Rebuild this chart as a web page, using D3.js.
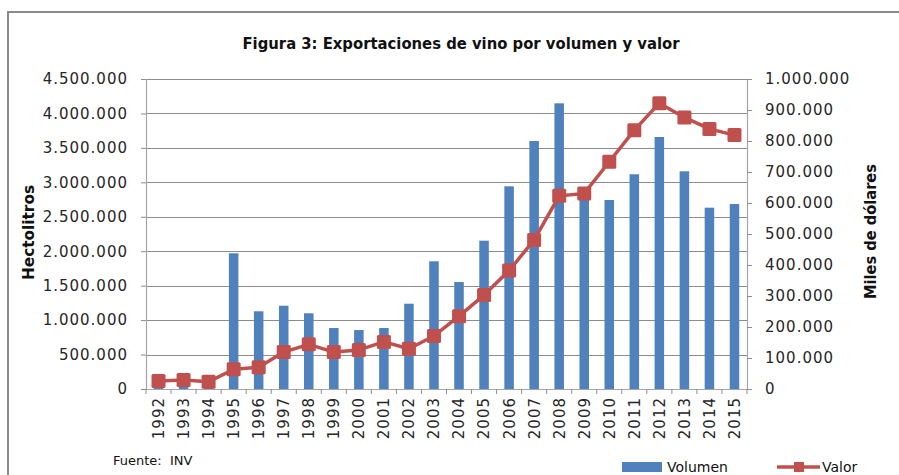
<!DOCTYPE html>
<html>
<head>
<meta charset="utf-8">
<script src="https://cdn.jsdelivr.net/npm/d3@7"></script>
<style>
  html, body { margin: 0; padding: 0; background: #fff; }
  svg { display: block; }
</style>
</head>
<body>
<svg id="chart" width="899" height="475"></svg>
<script>
const years = ["1992","1993","1994","1995","1996","1997","1998","1999","2000","2001","2002","2003","2004","2005","2006","2007","2008","2009","2010","2011","2012","2013","2014","2015"];
const volumen = [120000,130000,110000,1970000,1128000,1209000,1099000,885000,856000,885000,1238000,1854000,1553000,2153000,2942000,3600000,4147000,2790000,2744000,3117000,3658000,3160000,2632000,2685000];
const valor = [25800,29000,23500,63500,70000,119000,144000,119000,126000,152000,130000,171000,235000,303000,382000,481000,623000,631000,733000,835000,922000,876000,839000,819000];
const leftTicks = [0,500000,1000000,1500000,2000000,2500000,3000000,3500000,4000000,4500000];
const rightTicks = [0,100000,200000,300000,400000,500000,600000,700000,800000,900000,1000000];
const seriesNames = ["Volumen","Valor"];
const titleText = "Figura 3: Exportaciones de vino por volumen y valor";
const leftTitle = "Hectolitros";
const rightTitle = "Miles de dólares";
const sourceText = "Fuente:\u00a0\u00a0INV";

(function () {
const BLUE = "#4f81bd", RED = "#c0504d";
const svg = d3.select("#chart");
const pL = 146, pR = 747, pT = 79, pB = 389;

const fmt = v => v === 0 ? "0" : d3.format(",")(v).replace(/,/g, ".");

svg.append("rect").attr("x", 8).attr("y", 12).attr("width", 920).attr("height", 500)
  .attr("fill", "none").attr("stroke", "#8a8a8a").attr("stroke-width", 2);

const x = d3.scaleBand().domain(years).range([pL, pR]).padding(0);
const yL = d3.scaleLinear().domain([0, 4500000]).range([pB, pT]);
const yR = d3.scaleLinear().domain([0, 1000000]).range([pB, pT]);

svg.append("g").selectAll("line").data(leftTicks.filter(d => d > 0)).join("line")
  .attr("x1", pL).attr("x2", pR)
  .attr("y1", d => Math.round(yL(d)) + 0.5).attr("y2", d => Math.round(yL(d)) + 0.5)
  .attr("stroke", "#8c8c8c").attr("stroke-width", 1);

const textFont = "'DejaVu Sans', sans-serif";

const gL = svg.append("g").attr("transform", `translate(${pL},0)`)
  .call(d3.axisLeft(yL).tickValues(leftTicks).tickFormat(fmt).tickSize(5).tickPadding(13));
const gR = svg.append("g").attr("transform", `translate(${pR},0)`)
  .call(d3.axisRight(yR).tickValues(rightTicks).tickFormat(fmt).tickSize(5).tickPadding(13));
const gB = svg.append("g").attr("transform", `translate(0,${pB})`)
  .call(d3.axisBottom(x).tickSize(0).tickFormat(d => d));

[gL, gR, gB].forEach(g => {
  g.select(".domain").attr("stroke", "#a6a6a6").attr("stroke-width", 1.2);
  g.selectAll(".tick line").attr("stroke", "#8c8c8c");
  g.selectAll("text").attr("font-family", textFont).attr("font-size", 15)
    .attr("letter-spacing", "1px").attr("fill", "#262626");
});

gB.selectAll(".tick text")
  .attr("text-anchor", "end")
  .attr("transform", "translate(0,8) rotate(-90)")
  .attr("x", 0).attr("y", 0).attr("dy", "0.36em");

svg.append("g").selectAll("line").data(d3.range(years.length + 1)).join("line")
  .attr("x1", i => pL + i * x.step()).attr("x2", i => pL + i * x.step())
  .attr("y1", pB).attr("y2", pB + 5)
  .attr("stroke", "#8c8c8c");

const bw = x.bandwidth() * 0.38;
svg.append("g").selectAll("rect").data(years).join("rect")
  .attr("x", (d) => x(d) + (x.bandwidth() - bw) / 2)
  .attr("width", bw)
  .attr("y", (d, i) => yL(volumen[i]))
  .attr("height", (d, i) => pB - yL(volumen[i]))
  .attr("fill", BLUE);

const cx = d => x(d) + x.bandwidth() / 2;
const line = d3.line().x((d, i) => cx(years[i])).y(d => yR(d));
svg.append("path").datum(valor).attr("d", line)
  .attr("fill", "none").attr("stroke", RED).attr("stroke-width", 3.5).attr("stroke-linejoin", "round");
const ms = 14;
svg.append("g").selectAll("rect").data(valor).join("rect")
  .attr("x", (d, i) => cx(years[i]) - ms / 2).attr("y", d => yR(d) - ms / 2)
  .attr("width", ms).attr("height", ms).attr("rx", 1.5)
  .attr("fill", RED);

svg.append("text").attr("x", 461).attr("y", 49).attr("text-anchor", "middle")
  .attr("font-family", textFont).attr("font-weight", "bold").attr("font-size", 15.5)
  .attr("fill", "#111")
  .attr("textLength", 437).attr("lengthAdjust", "spacingAndGlyphs")
  .text(titleText);

svg.append("text").attr("transform", "translate(34,232.5) rotate(-90)").attr("text-anchor", "middle")
  .attr("font-family", textFont).attr("font-weight", "bold").attr("font-size", 15)
  .attr("fill", "#111").attr("textLength", 95).attr("lengthAdjust", "spacingAndGlyphs")
  .text(leftTitle);
svg.append("text").attr("transform", "translate(876,231.5) rotate(-90)").attr("text-anchor", "middle")
  .attr("font-family", textFont).attr("font-weight", "bold").attr("font-size", 15)
  .attr("fill", "#111").attr("textLength", 135).attr("lengthAdjust", "spacingAndGlyphs")
  .text(rightTitle);

svg.append("text").attr("x", 113).attr("y", 465)
  .attr("font-family", textFont).attr("font-size", 13).attr("fill", "#111")
  .text(sourceText);

const lg = svg.append("g");
lg.append("rect").attr("x", 622).attr("y", 462).attr("width", 40).attr("height", 10).attr("fill", BLUE);
lg.append("text").attr("x", 667).attr("y", 472).attr("font-family", textFont).attr("font-size", 14)
  .attr("fill", "#111").text(seriesNames[0]);
lg.append("line").attr("x1", 777).attr("x2", 820).attr("y1", 467).attr("y2", 467)
  .attr("stroke", RED).attr("stroke-width", 3.5);
lg.append("rect").attr("x", 794).attr("y", 462).attr("width", 10).attr("height", 10).attr("fill", RED);
lg.append("text").attr("x", 822).attr("y", 472).attr("font-family", textFont).attr("font-size", 14)
  .attr("fill", "#111").text(seriesNames[1]);
})();
</script>
</body>
</html>
